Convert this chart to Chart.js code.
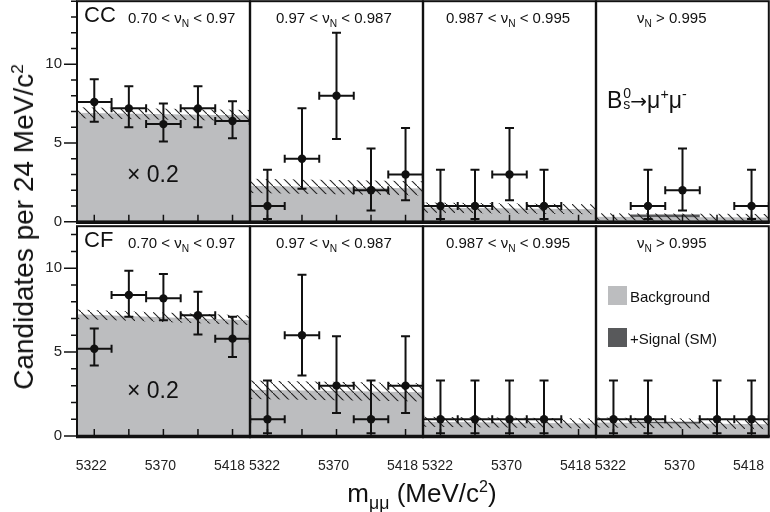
<!DOCTYPE html>
<html>
<head>
<meta charset="utf-8">
<script src="https://cdn.jsdelivr.net/npm/chart.js@4.4.1/dist/chart.umd.min.js"></script>
<style>
  body { margin: 0; width: 770px; height: 512px; overflow: hidden; background: #fff; position: relative;
         font-family: "Liberation Sans", Arial, Helvetica, sans-serif; color: #111; }
  canvas { position: absolute; }
  .t { position: absolute; white-space: nowrap; line-height: 1; }
  .t sub { font-size: 0.68em; vertical-align: baseline; position: relative; top: 0.4em; }
  .t sup { font-size: 0.62em; vertical-align: baseline; position: relative; top: -0.6em; }
  .box { position: absolute; width: 19px; height: 19px; }
</style>
</head>
<body>
<script>
// Data
const binCenters = [5322, 5346, 5370, 5394, 5418];
const xTickLabels = [5322, 5370, 5418];
const massRange = [5310, 5430];
const halfBin = 12;
const yTickLabels = [0, 5, 10];
const yMaxRow = [14, 12.5];

const nuLabels = ['0.70 &lt; ν<sub>N</sub> &lt; 0.97', '0.97 &lt; ν<sub>N</sub> &lt; 0.987',
                  '0.987 &lt; ν<sub>N</sub> &lt; 0.995', 'ν<sub>N</sub> &gt; 0.995'];
const rowNames = ['CC', 'CF'];

// CC row (top)
const ccMass = [binCenters, binCenters, [5322, 5346, 5370, 5394], [5346, 5370, 5418]];
const ccVal = [[7.6, 7.2, 6.2, 7.2, 6.4], [1, 4, 8, 2, 3], [1, 1, 3, 1], [1, 2, 1]];
const ccHi  = [[9.05, 8.6, 7.5, 8.6, 7.65], [3.3, 7.2, 12.0, 4.65, 5.95], [3.3, 3.3, 5.95, 3.3], [3.3, 4.65, 3.3]];
const ccLo  = [[6.35, 6.0, 5.1, 6.0, 5.3], [0.17, 2.1, 5.25, 0.72, 1.37], [0.17, 0.17, 1.37, 0.17], [0.17, 0.72, 0.17]];
const ccBkg = [[6.92, 6.75], [2.28, 2.12], [0.9, 0.8], [0.32, 0.28]];
const ccBkgErr = [0.35, 0.45, 0.32, 0.22];
const ccSignalTop = [0, 0, 0, 0.47];

// CF row (bottom)
const cfMass = [binCenters, binCenters, [5322, 5346, 5370, 5394], [5322, 5346, 5394, 5418]];
const cfVal = [[5.2, 8.4, 8.2, 7.2, 5.8], [1, 6, 3, 1, 3], [1, 1, 1, 1], [1, 1, 1, 1]];
const cfHi  = [[6.4, 9.85, 9.65, 8.6, 7.1], [3.3, 9.6, 5.95, 3.3, 5.95], [3.3, 3.3, 3.3, 3.3], [3.3, 3.3, 3.3, 3.3]];
const cfLo  = [[4.2, 7.1, 6.9, 6.05, 4.7], [0.17, 3.6, 1.37, 0.17, 1.37], [0.17, 0.17, 0.17, 0.17], [0.17, 0.17, 0.17, 0.17]];
const cfBkg = [[7.25, 6.9], [2.75, 2.6], [0.85, 0.75], [0.8, 0.7]];
const cfBkgErr = [0.28, 0.55, 0.3, 0.3];
const cfSignalTop = [0, 0, 0, 0.85];
const signalWindow = [5334, 5382];

// Layout
const PANEL_X = [77, 250, 423, 596];
const PANEL_W = 173;
const ROW_TOP = [1, 226];
const ROW_BOTTOM = [222, 436];
const PAD = 4;

const GRAY = '#bcbdbf';
const DARK = '#58595b';
const INK = '#111';

Chart.defaults.font.family = '"Liberation Sans", Arial, sans-serif';

function makeHatch(ctx) {
    const s = 9;
    const tile = document.createElement('canvas');
    tile.width = s; tile.height = s;
    const g = tile.getContext('2d');
    g.strokeStyle = '#222';
    g.lineWidth = 1.1;
    g.beginPath(); g.moveTo(-1, -1); g.lineTo(s + 1, s + 1); g.stroke();
    return ctx.createPattern(tile, 'repeat');
}

// no label overflow padding, fixed axis size
function fixSize(s, size) {
    if (s.isHorizontal()) s.height = size; else s.width = size;
    s.paddingLeft = s.paddingRight = s.paddingTop = s.paddingBottom = 0;
}

// error bars, inner ticks and frame
function marksPlugin(mass, val, hi, lo, firstCol, yMax) {
    return {
        id: 'marks',
        afterDatasetsDraw(chart) {
            const {ctx, chartArea: a, scales: {x, y}} = chart;
            ctx.save();
            ctx.beginPath(); ctx.rect(a.left, a.top, a.width, a.height); ctx.clip();
            ctx.strokeStyle = INK;
            ctx.lineWidth = 2;
            ctx.beginPath();
            mass.forEach((m, i) => {
                const px = x.getPixelForValue(m), py = y.getPixelForValue(val[i]);
                const xl = x.getPixelForValue(m - halfBin), xr = x.getPixelForValue(m + halfBin);
                const yt = y.getPixelForValue(hi[i]), yb = y.getPixelForValue(lo[i]);
                ctx.moveTo(xl, py); ctx.lineTo(xr, py);
                ctx.moveTo(xl, py - 4); ctx.lineTo(xl, py + 4);
                ctx.moveTo(xr, py - 4); ctx.lineTo(xr, py + 4);
                ctx.moveTo(px, yt); ctx.lineTo(px, yb);
                ctx.moveTo(px - 4.5, yt); ctx.lineTo(px + 4.5, yt);
                ctx.moveTo(px - 4.5, yb); ctx.lineTo(px + 4.5, yb);
            });
            ctx.stroke();
            ctx.lineWidth = 1.5;
            ctx.beginPath();
            binCenters.forEach(m => {
                const px = x.getPixelForValue(m);
                ctx.moveTo(px, a.bottom); ctx.lineTo(px, a.bottom - 7);
            });
            ctx.stroke();
            ctx.restore();

            ctx.save();
            ctx.strokeStyle = INK;
            ctx.lineWidth = 2;
            ctx.strokeRect(a.left, a.top, a.width, a.height);
            ctx.lineWidth = 3.5;
            ctx.beginPath(); ctx.moveTo(a.left - 1, a.bottom + 0.5); ctx.lineTo(a.right + 1, a.bottom + 0.5); ctx.stroke();
            if (firstCol) {
                ctx.lineWidth = 1.5;
                ctx.beginPath();
                for (let v = 0; v <= yMax; v++) {
                    const py = y.getPixelForValue(v);
                    const len = v % 5 === 0 ? 13 : 6;
                    ctx.moveTo(a.left - len, py); ctx.lineTo(a.left, py);
                }
                ctx.stroke();
            }
            ctx.restore();
        }
    };
}

function makePanel(r, c) {
    const mass = (r === 0 ? ccMass : cfMass)[c];
    const val = (r === 0 ? ccVal : cfVal)[c];
    const hi = (r === 0 ? ccHi : cfHi)[c];
    const lo = (r === 0 ? ccLo : cfLo)[c];
    const bkg = (r === 0 ? ccBkg : cfBkg)[c];
    const err = (r === 0 ? ccBkgErr : cfBkgErr)[c];
    const sig = (r === 0 ? ccSignalTop : cfSignalTop)[c];
    const yMax = yMaxRow[r];
    const showX = r === 1, showY = c === 0;

    const left = PANEL_X[c], right = left + PANEL_W;
    const cvLeft = showY ? 0 : left - PAD;
    const cvTop = ROW_TOP[r] - PAD;
    const cvBottom = showX ? 512 : ROW_BOTTOM[r] + PAD;

    const canvas = document.createElement('canvas');
    canvas.width = right + PAD - cvLeft;
    canvas.height = cvBottom - cvTop;
    canvas.style.left = cvLeft + 'px';
    canvas.style.top = cvTop + 'px';
    document.body.appendChild(canvas);
    const ctx = canvas.getContext('2d');

    const datasets = [];
    datasets.push({
        type: 'scatter', data: mass.map((m, i) => ({x: m, y: val[i]})),
        pointRadius: 4.2, pointBackgroundColor: INK, pointBorderWidth: 0, order: 1
    });
    datasets.push({
        type: 'line', data: [{x: massRange[0], y: bkg[0] + err}, {x: massRange[1], y: bkg[1] + err}],
        fill: '+1', backgroundColor: makeHatch(ctx), borderWidth: 0, pointRadius: 0, order: 2
    });
    datasets.push({
        type: 'line', data: [{x: massRange[0], y: bkg[0] - err}, {x: massRange[1], y: bkg[1] - err}],
        fill: false, borderWidth: 0, pointRadius: 0, order: 2
    });
    datasets.push({
        type: 'line', data: [{x: massRange[0], y: bkg[0]}, {x: massRange[1], y: bkg[1]}],
        fill: 'origin', backgroundColor: GRAY, borderWidth: 0, pointRadius: 0, order: 3
    });
    if (sig > 0) {
        datasets.push({
            type: 'line', stepped: true,
            data: [{x: massRange[0], y: 0}, {x: signalWindow[0], y: sig}, {x: signalWindow[1], y: 0}, {x: massRange[1], y: 0}],
            fill: 'origin', backgroundColor: DARK, borderWidth: 0, pointRadius: 0, order: 4
        });
    }

    new Chart(ctx, {
        type: 'scatter',
        data: {datasets},
        options: {
            responsive: false,
            maintainAspectRatio: false,
            animation: false,
            devicePixelRatio: 1,
            layout: {padding: {left: showY ? 0 : PAD, right: PAD, top: PAD, bottom: showX ? 0 : PAD}},
            plugins: {legend: {display: false}, tooltip: {enabled: false}},
            scales: {
                x: {
                    type: 'linear', min: massRange[0], max: massRange[1], display: showX,
                    afterBuildTicks: s => { s.ticks = xTickLabels.map(v => ({value: v})); },
                    afterFit: s => fixSize(s, showX ? 512 - ROW_BOTTOM[1] : 0),
                    grid: {display: false, drawTicks: false},
                    border: {display: false},
                    ticks: {autoSkip: false, maxRotation: 0, padding: 22, labelOffset: -3, color: '#222',
                            font: {size: 14}, callback: v => String(v)}
                },
                y: {
                    type: 'linear', min: 0, max: yMax, display: showY,
                    afterBuildTicks: s => { s.ticks = yTickLabels.map(v => ({value: v})); },
                    afterFit: s => fixSize(s, showY ? PANEL_X[0] : 0),
                    grid: {display: false, drawTicks: false},
                    border: {display: false},
                    ticks: {padding: 15, color: '#222', font: {size: 15}, callback: v => String(v)}
                }
            }
        },
        plugins: [marksPlugin(mass, val, hi, lo, showY, yMax)]
    });
}

function addText(html, left, top, size, extra) {
    const d = document.createElement('div');
    d.className = 't';
    d.style.left = left + 'px';
    d.style.top = top + 'px';
    d.style.fontSize = size + 'px';
    d.innerHTML = html;
    if (extra) Object.assign(d.style, extra);
    document.body.appendChild(d);
    return d;
}

for (let r = 0; r < 2; r++) {
    for (let c = 0; c < 4; c++) makePanel(r, c);
}

// panel labels
const nuLeft = [128, 276, 446, 637];
const timesTop = [162.5, 379];
for (let r = 0; r < 2; r++) {
    const dy = ROW_TOP[r] - ROW_TOP[0];
    addText(rowNames[r], 84, 3.5 + dy, 22);
    nuLabels.forEach((txt, c) => addText(txt, nuLeft[c], 9.5 + dy, 15));
    addText('× 0.2', 127, timesTop[r], 23);
}

// decay label and legend
addText('B<span style="display:inline-block;position:relative;width:8px;height:22px;">' +
        '<span style="position:absolute;left:1px;top:0;font-size:14px;">0</span>' +
        '<span style="position:absolute;left:1px;top:11px;font-size:14px;">s</span></span>' +
        '<span style="font-family:\'DejaVu Sans\';font-size:20px;">→</span>μ<sup>+</sup>μ<sup>-</sup>', 607, 86, 23);

const legendColors = [GRAY, DARK];
const legendNames = ['Background', '+Signal (SM)'];
const legendTop = [286, 328];
legendNames.forEach((name, i) => {
    const b = document.createElement('div');
    b.className = 'box';
    b.style.left = '608px';
    b.style.top = legendTop[i] + 'px';
    b.style.background = legendColors[i];
    document.body.appendChild(b);
    addText(name, 630, legendTop[i] + 3, 15);
});

// axis titles
addText('Candidates per 24 MeV/c<sup>2</sup>', 24, 227, 28,
        {transform: 'translate(-50%, -50%) rotate(-90deg)'});
addText('m<sub>μμ</sub> (MeV/c<sup>2</sup>)', 422, 480, 26, {transform: 'translate(-50%, 0)'});
</script>
</body>
</html>
